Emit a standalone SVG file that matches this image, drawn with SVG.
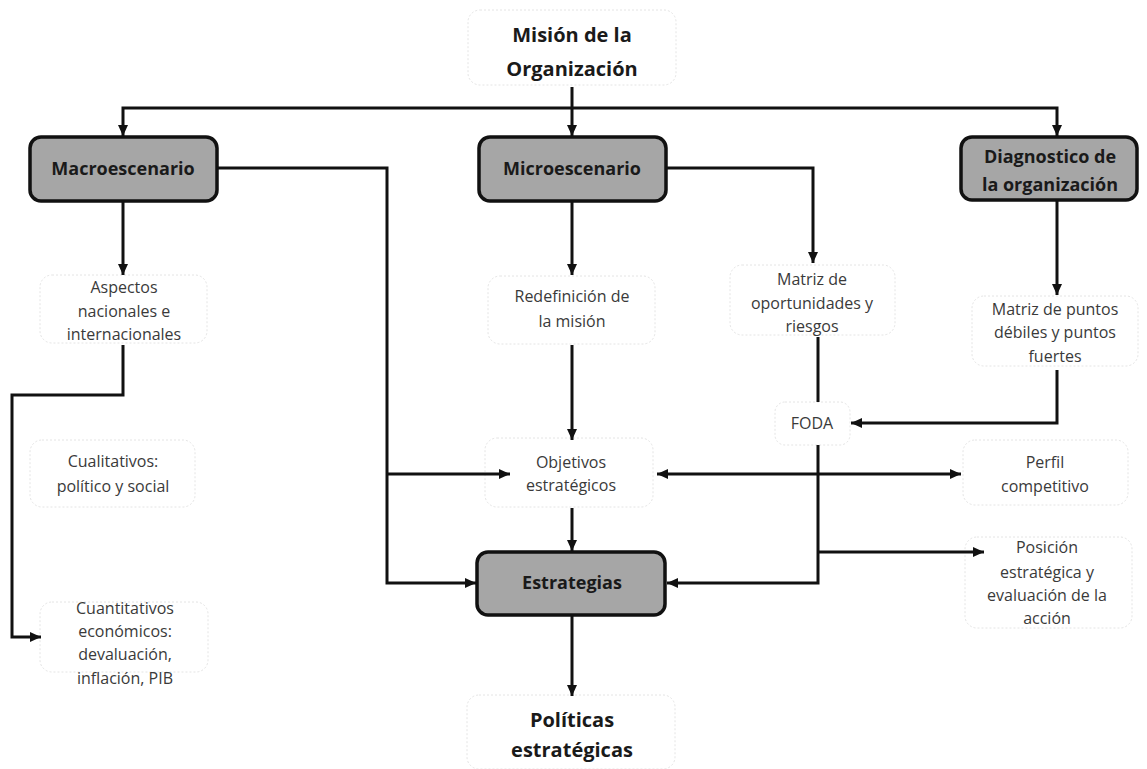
<svg xmlns="http://www.w3.org/2000/svg" width="1147" height="769" viewBox="0 0 1147 769">
  <style>
    .bg { fill: #ffffff; }
    .main { fill: #a6a6a6; stroke: #111111; stroke-width: 3.5; }
    .soft { fill: #ffffff; stroke: #e4e4e4; stroke-width: 1; stroke-dasharray: 2 2; }
    .lbl { font-family: "Open Sans", "Liberation Sans", sans-serif; font-size: 16px; fill: #3a3a3a; text-anchor: middle; }
    .hd { font-family: "Open Sans", "Liberation Sans", sans-serif; font-size: 18px; font-weight: bold; fill: #1a1a1a; text-anchor: middle; }
    .big { font-family: "Open Sans", "Liberation Sans", sans-serif; font-size: 20px; font-weight: bold; fill: #1a1a1a; text-anchor: middle; }
    .wire { fill: none; stroke: #111111; stroke-width: 3; }
    .arr { marker-end: url(#head); }
    .both { marker-start: url(#head); marker-end: url(#head); }
  </style>
  <defs>
    <marker id="head" markerUnits="userSpaceOnUse" markerWidth="11" markerHeight="10" refX="11" refY="5" orient="auto-start-reverse">
      <path d="M0,0 L11,5 L0,10 z" fill="#111111"/>
    </marker>
  </defs>

  <rect class="bg" x="0" y="0" width="1147" height="769"/>

  <!-- nodes -->
  <g id="mision">
    <rect class="soft" x="468" y="10" width="208" height="75" rx="12"/>
    <text class="big" x="572" y="42">Misión de la</text>
    <text class="big" x="572" y="76">Organización</text>
  </g>

  <g id="macroescenario">
    <rect class="main" x="30" y="137" width="187" height="64" rx="11"/>
    <text class="hd" x="123" y="175">Macroescenario</text>
  </g>

  <g id="microescenario">
    <rect class="main" x="479" y="137" width="187" height="64" rx="11"/>
    <text class="hd" x="572" y="175">Microescenario</text>
  </g>

  <g id="diagnostico">
    <rect class="main" x="961" y="137" width="176" height="63" rx="11"/>
    <text class="hd" x="1050" y="163">Diagnostico de</text>
    <text class="hd" x="1050" y="191">la organización</text>
  </g>

  <g id="aspectos">
    <rect class="soft" x="40" y="275" width="167" height="68" rx="12"/>
    <text class="lbl" x="124" y="293">Aspectos</text>
    <text class="lbl" x="124" y="317">nacionales e</text>
    <text class="lbl" x="124" y="340">internacionales</text>
  </g>

  <g id="cualitativos">
    <rect class="soft" x="30" y="440" width="165" height="67" rx="12"/>
    <text class="lbl" x="113" y="467">Cualitativos:</text>
    <text class="lbl" x="113" y="492">político y social</text>
  </g>

  <g id="cuantitativos">
    <rect class="soft" x="40" y="602" width="168" height="70" rx="12"/>
    <text class="lbl" x="125" y="614">Cuantitativos</text>
    <text class="lbl" x="125" y="637">económicos:</text>
    <text class="lbl" x="125" y="660">devaluación,</text>
    <text class="lbl" x="125" y="684">inflación, PIB</text>
  </g>

  <g id="redefinicion">
    <rect class="soft" x="488" y="276" width="167" height="68" rx="12"/>
    <text class="lbl" x="572" y="302">Redefinición de</text>
    <text class="lbl" x="572" y="327">la misión</text>
  </g>

  <g id="oportunidades">
    <rect class="soft" x="730" y="265" width="165" height="70" rx="12"/>
    <text class="lbl" x="812" y="285">Matriz de</text>
    <text class="lbl" x="812" y="309">oportunidades y</text>
    <text class="lbl" x="812" y="332">riesgos</text>
  </g>

  <g id="puntos">
    <rect class="soft" x="972" y="296" width="166" height="70" rx="12"/>
    <text class="lbl" x="1055" y="315">Matriz de puntos</text>
    <text class="lbl" x="1055" y="338">débiles y puntos</text>
    <text class="lbl" x="1055" y="362">fuertes</text>
  </g>

  <g id="foda">
    <rect class="soft" x="775" y="402" width="75" height="43" rx="10"/>
    <text class="lbl" x="812" y="429">FODA</text>
  </g>

  <g id="objetivos">
    <rect class="soft" x="485" y="438" width="168" height="69" rx="12"/>
    <text class="lbl" x="571" y="468">Objetivos</text>
    <text class="lbl" x="571" y="491">estratégicos</text>
  </g>

  <g id="perfil">
    <rect class="soft" x="963" y="440" width="165" height="65" rx="12"/>
    <text class="lbl" x="1045" y="468">Perfil</text>
    <text class="lbl" x="1045" y="492">competitivo</text>
  </g>

  <g id="estrategias">
    <rect class="main" x="477" y="552" width="188" height="63" rx="11"/>
    <text class="hd" x="572" y="589">Estrategias</text>
  </g>

  <g id="posicion">
    <rect class="soft" x="965" y="537" width="167" height="91" rx="12"/>
    <text class="lbl" x="1047" y="553">Posición</text>
    <text class="lbl" x="1047" y="578">estratégica y</text>
    <text class="lbl" x="1047" y="601">evaluación de la</text>
    <text class="lbl" x="1047" y="624">acción</text>
  </g>

  <g id="politicas">
    <rect class="soft" x="467" y="695" width="208" height="74" rx="12"/>
    <text class="big" x="572" y="727">Políticas</text>
    <text class="big" x="572" y="757">estratégicas</text>
  </g>

  <!-- connectors, drawn over the boxes so the arrow tips stay visible -->
  <g id="connectors">
    <path class="wire arr" d="M572,87 V136"/>
    <path class="wire arr" d="M572,108 H123 V136"/>
    <path class="wire arr" d="M572,108 H1057 V136"/>
    <path class="wire arr" d="M123,201 V275"/>
    <path class="wire arr" d="M217,168 H387 V583 H476"/>
    <path class="wire arr" d="M387,474 H510"/>
    <path class="wire arr" d="M123,345 V395 H12 V637 H41"/>
    <path class="wire arr" d="M572,201 V275"/>
    <path class="wire arr" d="M572,345 V440"/>
    <path class="wire arr" d="M572,508 V551"/>
    <path class="wire arr" d="M572,615 V696"/>
    <path class="wire arr" d="M666,168 H813 V263"/>
    <path class="wire" d="M818,337 V402"/>
    <path class="wire arr" d="M818,445 V583 H667"/>
    <path class="wire arr" d="M818,552 H984"/>
    <path class="wire both" d="M657,474 H961"/>
    <path class="wire arr" d="M1057,200 V295"/>
    <path class="wire arr" d="M1057,370 V423 H851"/>
  </g>
</svg>
